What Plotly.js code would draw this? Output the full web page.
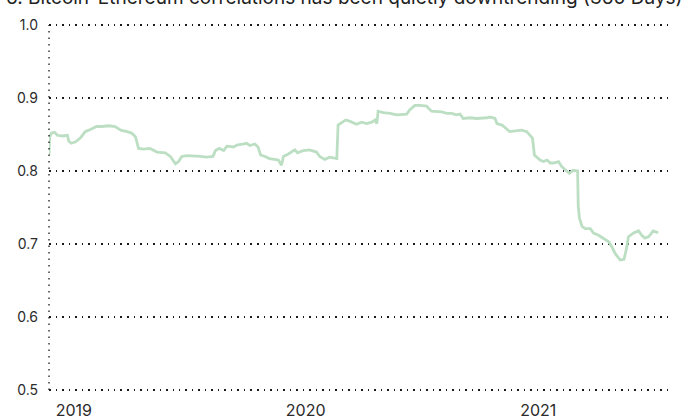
<!DOCTYPE html>
<html>
<head>
<meta charset="utf-8">
<script src="https://cdn.plot.ly/plotly-3.0.1.min.js"></script>
<style>
html,body{margin:0;padding:0;background:#fff;overflow:hidden;}
#chart{width:682px;height:419px;}
</style>
</head>
<body>
<div id="chart"></div>
<script>
const titleText = "6. Bitcoin-Ethereum correlations has been quietly downtrending (360 Days)";

const dates = [
"2018-11-23","2018-11-24","2018-11-27","2018-12-02","2018-12-06","2018-12-14","2018-12-22","2018-12-24","2018-12-28",
"2019-01-04","2019-01-12","2019-01-19","2019-01-27","2019-02-06","2019-02-14","2019-02-25","2019-03-07","2019-03-16",
"2019-03-26","2019-04-02","2019-04-08","2019-04-13","2019-04-21","2019-05-01","2019-05-12","2019-05-25","2019-06-02",
"2019-06-10","2019-06-15","2019-06-20","2019-06-28","2019-07-09","2019-07-19","2019-07-29","2019-08-08","2019-08-12",
"2019-08-18","2019-08-25","2019-08-30","2019-09-09","2019-09-16","2019-09-24","2019-09-30","2019-10-05","2019-10-13",
"2019-10-18","2019-10-22","2019-10-29","2019-11-05","2019-11-13","2019-11-19","2019-11-24","2019-11-27","2019-12-04",
"2019-12-15","2019-12-19","2019-12-28","2020-01-07","2020-01-18","2020-01-23","2020-01-31","2020-02-08","2020-02-16",
"2020-02-19","2020-02-21","2020-02-27","2020-03-04","2020-03-11","2020-03-13","2020-03-21","2020-03-29","2020-04-06",
"2020-04-14","2020-04-19","2020-04-22","2020-04-24","2020-05-02","2020-05-13","2020-05-23","2020-05-31","2020-06-08",
"2020-06-13","2020-06-21","2020-06-29","2020-07-09","2020-07-17","2020-07-25","2020-08-02","2020-08-10","2020-08-18",
"2020-08-25","2020-08-31","2020-09-05","2020-09-16","2020-09-26","2020-10-07","2020-10-12","2020-10-17","2020-10-25",
"2020-10-28","2020-11-05","2020-11-12","2020-11-17","2020-11-26","2020-12-06","2020-12-14","2020-12-19","2020-12-23",
"2020-12-26","2021-01-01","2021-01-04","2021-01-09","2021-01-15","2021-01-20","2021-01-25","2021-02-02","2021-02-07",
"2021-02-12","2021-02-19","2021-02-25","2021-03-04","2021-03-05","2021-03-07","2021-03-11","2021-03-16","2021-03-24",
"2021-03-29","2021-04-06","2021-04-14","2021-04-22","2021-04-27","2021-05-02","2021-05-10","2021-05-16","2021-05-20",
"2021-05-23","2021-05-31","2021-06-08","2021-06-13","2021-06-18","2021-06-24","2021-07-01","2021-07-07","2021-07-09"
];

const correlation = [
0.822,0.847,0.852,0.853,0.849,0.848,0.849,0.841,0.838,
0.840,0.846,0.854,0.857,0.861,0.861,0.862,0.861,0.856,
0.854,0.852,0.847,0.831,0.830,0.831,0.826,0.825,0.820,
0.810,0.813,0.820,0.821,0.821,0.820,0.819,0.820,0.828,
0.831,0.828,0.834,0.833,0.836,0.837,0.838,0.835,0.837,
0.833,0.822,0.820,0.817,0.816,0.815,0.808,0.820,0.823,
0.829,0.825,0.828,0.829,0.826,0.820,0.816,0.819,0.818,
0.817,0.863,0.867,0.870,0.868,0.867,0.864,0.867,0.865,
0.867,0.870,0.865,0.882,0.880,0.879,0.877,0.878,0.878,
0.884,0.890,0.890,0.889,0.882,0.882,0.881,0.879,0.879,
0.877,0.878,0.872,0.873,0.872,0.872,0.873,0.874,0.872,
0.865,0.863,0.858,0.854,0.855,0.856,0.854,0.849,0.845,
0.822,0.817,0.815,0.813,0.815,0.811,0.811,0.813,0.806,
0.802,0.797,0.801,0.800,0.751,0.735,0.724,0.721,0.721,
0.715,0.712,0.708,0.703,0.696,0.687,0.678,0.679,0.694,
0.710,0.715,0.718,0.712,0.708,0.710,0.718,0.716,0.716
];

const yTicks = [0.5, 0.6, 0.7, 0.8, 0.9, 1.0];
const yTickLabels = ["0.5", "0.6", "0.7", "0.8", "0.9", "1.0"];
const xTicks = ["2019-01-01", "2020-01-01", "2021-01-01"];
const xTickLabels = ["2019", "2020", "2021"];

const trace = {
  x: dates,
  y: correlation,
  type: "scatter",
  mode: "lines",
  line: {color: "#bcdfc3", width: 2.8},
  hoverinfo: "skip"
};

const layout = {
  width: 682,
  height: 419,
  margin: {l: 49, r: 11, t: 24, b: 28},
  paper_bgcolor: "#ffffff",
  plot_bgcolor: "#ffffff",
  showlegend: false,
  font: {family: "Inter, Roboto, sans-serif", color: "#333333"},
  xaxis: {
    type: "date",
    range: ["2018-11-23", "2021-07-29"],
    tickmode: "array",
    tickvals: xTicks,
    ticktext: xTickLabels,
    showgrid: false,
    zeroline: false,
    showline: false,
    ticks: "",
    tickfont: {size: 16, color: "#2b2b2b"},
    ticklabelstandoff: 8
  },
  yaxis: {
    range: [0.4985, 1.0015],
    tickmode: "array",
    tickvals: yTicks,
    ticktext: yTickLabels,
    showgrid: true,
    gridcolor: "#1a1a1a",
    gridwidth: 1.3,
    griddash: "1.5px,5px",
    zeroline: false,
    showline: false,
    ticks: "",
    tickfont: {size: 14, color: "#2b2b2b"},
    ticklabelstandoff: 10
  },
  shapes: [{
    type: "line", xref: "paper", yref: "y",
    x0: 0, x1: 0, y0: 0.5, y1: 1.0,
    line: {color: "#1a1a1a", width: 1.3, dash: "1.5px,5px"}
  }],
  annotations: [{
    text: titleText,
    xref: "paper", yref: "paper",
    x: -0.072, y: 1.072,
    xanchor: "left", yanchor: "middle",
    showarrow: false,
    font: {size: 19, color: "#222222", family: "Inter, Roboto, sans-serif"}
  }]
};

Plotly.newPlot("chart", [trace], layout, {displayModeBar: false, staticPlot: true});
</script>
</body>
</html>
